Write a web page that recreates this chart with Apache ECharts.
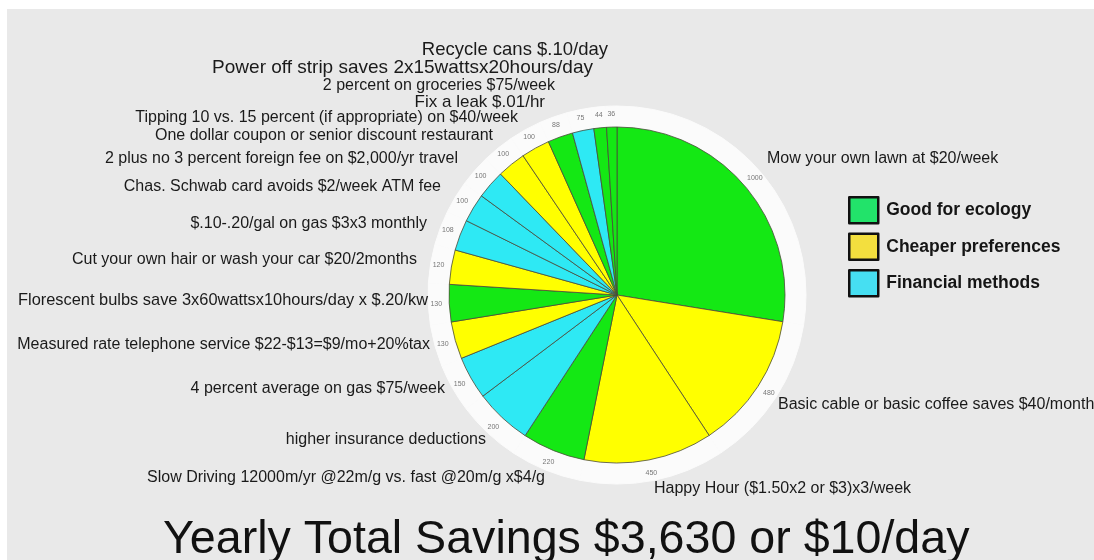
<!DOCTYPE html>
<html>
<head>
<meta charset="utf-8">
<script src="https://cdn.jsdelivr.net/npm/echarts@6/dist/echarts.min.js"></script>
<style>
body { margin: 0; background: #fff; }
#chart_savings { width: 1094px; height: 560px; }
</style>
</head>
<body>
<div id="chart_savings"></div>
<script>
// slices clockwise from 12 o'clock
const names = [
    'Mow your own lawn at $20/week',
    'Basic cable or basic coffee saves $40/month',
    'Happy Hour ($1.50x2 or $3)x3/week',
    'Slow Driving 12000m/yr @22m/g vs. fast @20m/g x$4/g',
    'higher insurance deductions',
    '4 percent average on gas $75/week',
    'Measured rate telephone service $22-$13=$9/mo+20%tax',
    'Florescent bulbs save 3x60wattsx10hours/day x $.20/kw',
    'Cut your own hair or wash your car $20/2months',
    '$.10-.20/gal on gas $3x3 monthly',
    'Chas. Schwab card avoids $2/week ATM fee',
    '2 plus no 3 percent foreign fee on $2,000/yr travel',
    'One dollar coupon or senior discount restaurant',
    'Tipping 10 vs. 15 percent (if appropriate) on $40/week',
    'Fix a leak $.01/hr',
    '2 percent on groceries $75/week',
    'Power off strip saves 2x15wattsx20hours/day',
    'Recycle cans $.10/day'
];
const values = [1000, 480, 450, 220, 200, 150, 130, 130, 120, 108, 100, 100, 100, 100, 88, 75, 44, 36];
// 0 = ecology, 1 = cheaper, 2 = financial
const kinds = [0, 1, 1, 0, 2, 2, 1, 0, 1, 2, 2, 2, 1, 1, 0, 2, 0, 0];
const kindNames = ['Good for ecology', 'Cheaper preferences', 'Financial methods'];
const titleText = 'Yearly Total Savings $3,630 or $10/day';

const sliceColors = ['#14e814', '#ffff00', '#2ee9f4'];
const legendColors = ['#22e36a', '#f3df3e', '#46dff2'];

// where each name label sits: [x, y, align, fontSize]
const labelSpots = [
    [767, 159, 'left', 16],
    [778, 405, 'left', 16],
    [654, 489, 'left', 16],
    [545, 478, 'right', 16],
    [486, 440, 'right', 16],
    [445, 389, 'right', 16],
    [430, 345, 'right', 16],
    [428, 300, 'right', 16.4],
    [417, 260, 'right', 16],
    [427, 224, 'right', 16],
    [441, 187, 'right', 16],
    [458, 159, 'right', 16],
    [493, 136, 'right', 16],
    [518, 118, 'right', 16],
    [545, 102, 'right', 17],
    [555, 86, 'right', 16],
    [593, 68, 'right', 19],
    [608, 50, 'right', 18.5]
];

let sliceData = values.map(function (v, i) {
    return {name: names[i], value: v, itemStyle: {color: sliceColors[kinds[i]]}};
});
let ringData = values.map(function (v, i) {
    return {name: names[i], value: v};
});
let kindData = kindNames.map(function (n, k) {
    let sum = 0;
    values.forEach(function (v, i) { if (kinds[i] === k) sum += v; });
    return {name: n, value: sum, itemStyle: {color: legendColors[k]}};
});

let chart = echarts.init(document.getElementById('chart_savings'));
chart.setOption({
    backgroundColor: '#ffffff',
    animation: false,
    textStyle: {fontFamily: 'Liberation Sans, Arial, sans-serif'},
    graphic: [{
        type: 'rect',
        z: -10,
        shape: {x: 7, y: 9, width: 1087, height: 551},
        style: {fill: '#e9e9e9'}
    }],
    title: {
        text: titleText,
        left: 163,
        top: 517,
        padding: 0,
        textStyle: {fontSize: 46.6, fontWeight: 'normal', color: '#111', fontFamily: 'Liberation Sans, Arial, sans-serif'}
    },
    legend: {
        data: kindNames,
        orient: 'vertical',
        left: 848,
        top: 196,
        padding: 0,
        icon: 'rect',
        itemWidth: 29,
        itemHeight: 26,
        itemGap: 8,
        selectedMode: false,
        itemStyle: {borderColor: '#111', borderWidth: 2.5},
        textStyle: {fontSize: 17.5, fontWeight: 'bold', color: '#151515', padding: [0, 0, 0, 3]}
    },
    series: [
        {
            name: 'ring',
            type: 'pie',
            center: [617, 295],
            radius: [167, 189],
            startAngle: 90,
            silent: true,
            data: ringData,
            itemStyle: {color: '#fbfbfb', borderColor: '#fbfbfb', borderWidth: 1},
            label: {
                show: true,
                position: 'inside',
                formatter: '{c}',
                fontSize: 7,
                color: '#777'
            },
            labelLine: {show: false},
            emphasis: {disabled: true}
        },
        {
            name: 'savings',
            type: 'pie',
            center: [617, 295],
            radius: [0, 168],
            startAngle: 90,
            silent: true,
            data: sliceData,
            itemStyle: {borderColor: '#4a4a3a', borderWidth: 0.8},
            label: {
                show: true,
                position: 'outside',
                formatter: '{b}',
                fontSize: 14,
                color: '#1a1a1a'
            },
            labelLine: {show: false},
            labelLayout: function (params) {
                let s = labelSpots[params.dataIndex];
                return {x: s[0], y: s[1], align: s[2], verticalAlign: 'middle', fontSize: s[3]};
            },
            emphasis: {disabled: true}
        },
        {
            name: 'kinds',
            type: 'pie',
            center: [617, 295],
            radius: [0, 0],
            silent: true,
            data: kindData,
            label: {show: false},
            labelLine: {show: false}
        }
    ]
});
</script>
</body>
</html>
